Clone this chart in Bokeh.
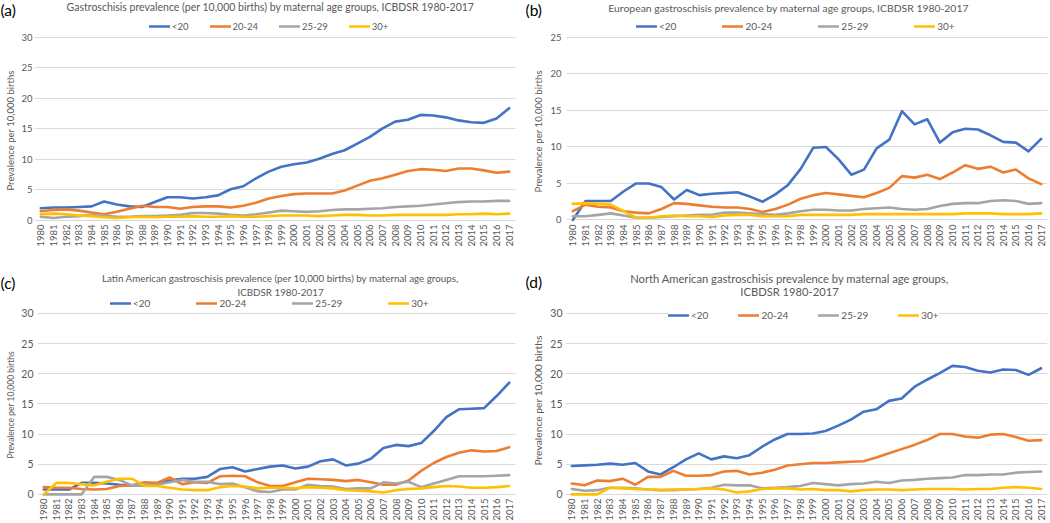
import math
from bokeh.plotting import figure
from bokeh.models import Range1d, FactorRange, FixedTicker, Label, Legend, LegendItem, Title
from bokeh.layouts import column, row
from bokeh.embed import file_html
from bokeh.resources import INLINE

# ---------------- data ----------------
years = [str(y) for y in range(1980, 2018)]
age_groups = ["<20", "20-24", "25-29", "30+"]

a_lt20 = [2.0, 2.1, 2.1, 2.2, 2.3, 3.1, 2.6, 2.3, 2.2, 3.0,
          3.8, 3.8, 3.6, 3.8, 4.1, 5.1, 5.6, 6.9, 8.0, 8.8,
          9.2, 9.5, 10.1, 10.9, 11.5, 12.6, 13.7, 15.1, 16.2, 16.5,
          17.3, 17.2, 16.9, 16.4, 16.1, 16.0, 16.7, 18.4]
a_2024 = [1.5, 1.7, 1.8, 1.6, 1.3, 1.0, 1.4, 1.9, 2.4, 2.2,
          2.2, 1.9, 2.2, 2.3, 2.3, 2.1, 2.4, 2.9, 3.6, 4.0,
          4.3, 4.4, 4.4, 4.4, 4.9, 5.7, 6.5, 6.9, 7.5, 8.1,
          8.4, 8.3, 8.1, 8.5, 8.5, 8.2, 7.8, 8.0]
a_2529 = [0.6, 0.4, 0.6, 0.7, 0.9, 0.8, 0.6, 0.6, 0.7, 0.7,
          0.8, 0.9, 1.2, 1.2, 1.1, 0.9, 0.8, 1.0, 1.3, 1.6,
          1.5, 1.4, 1.5, 1.7, 1.8, 1.8, 1.9, 2.0, 2.2, 2.3,
          2.4, 2.6, 2.8, 3.0, 3.1, 3.1, 3.2, 3.2]
a_30 = [1.0, 1.1, 1.0, 0.8, 0.7, 0.5, 0.4, 0.5, 0.6, 0.5,
        0.6, 0.6, 0.7, 0.6, 0.6, 0.7, 0.6, 0.6, 0.7, 0.8,
        0.8, 0.8, 0.7, 0.8, 0.9, 0.9, 0.8, 0.8, 0.9, 0.9,
        0.9, 0.9, 0.9, 1.0, 1.0, 1.1, 1.0, 1.1]

b_lt20 = [0.0, 2.6, 2.6, 2.6, 3.9, 5.0, 5.0, 4.5, 2.8, 4.1,
          3.4, 3.6, 3.7, 3.8, 3.2, 2.5, 3.5, 4.8, 7.0, 9.9,
          10.0, 8.3, 6.2, 6.9, 9.8, 11.0, 14.9, 13.1, 13.8, 10.6,
          12.0, 12.5, 12.4, 11.6, 10.7, 10.6, 9.4, 11.1]
b_2024 = [1.2, 2.1, 1.8, 1.7, 1.2, 1.0, 0.9, 1.5, 2.3, 2.2,
          2.0, 1.8, 1.7, 1.7, 1.5, 1.1, 1.5, 2.1, 2.9, 3.4,
          3.7, 3.5, 3.3, 3.1, 3.7, 4.4, 6.0, 5.8, 6.2, 5.6,
          6.5, 7.5, 7.0, 7.3, 6.5, 6.9, 5.7, 4.9]
b_2529 = [0.5, 0.5, 0.7, 0.9, 0.6, 0.3, 0.3, 0.4, 0.5, 0.6,
          0.7, 0.7, 1.0, 1.0, 0.9, 0.8, 0.7, 0.9, 1.2, 1.4,
          1.4, 1.3, 1.3, 1.5, 1.6, 1.7, 1.5, 1.4, 1.5, 1.9,
          2.2, 2.3, 2.3, 2.6, 2.7, 2.6, 2.2, 2.3]
b_30 = [2.2, 2.3, 2.2, 2.1, 1.2, 0.3, 0.3, 0.5, 0.6, 0.5,
        0.5, 0.4, 0.6, 0.7, 0.7, 0.5, 0.5, 0.5, 0.7, 0.7,
        0.7, 0.7, 0.7, 0.8, 0.8, 0.8, 0.8, 0.8, 0.8, 0.8,
        0.8, 0.9, 0.9, 0.9, 0.8, 0.8, 0.8, 0.9]

c_lt20 = [0.8, 0.8, 0.8, 1.9, 1.9, 1.8, 1.6, 1.5, 1.5, 1.7,
          2.3, 2.6, 2.6, 2.9, 4.2, 4.5, 3.8, 4.2, 4.6, 4.8,
          4.3, 4.6, 5.5, 5.8, 4.8, 5.1, 5.9, 7.7, 8.2, 8.0,
          8.5, 10.5, 12.8, 14.1, 14.2, 14.3, 16.3, 18.5]
c_2024 = [1.2, 1.1, 1.1, 0.9, 0.8, 0.9, 1.4, 1.5, 2.0, 1.9,
          2.8, 1.7, 2.0, 1.9, 3.0, 3.1, 3.0, 2.0, 1.4, 1.4,
          2.0, 2.6, 2.5, 2.4, 2.2, 2.4, 2.0, 1.6, 1.6, 2.3,
          3.9, 5.2, 6.2, 6.9, 7.3, 7.1, 7.2, 7.8]
c_2529 = [0.0, 0.0, 0.0, 0.0, 2.9, 2.9, 2.4, 1.5, 1.5, 1.6,
          2.0, 2.4, 2.1, 2.1, 1.7, 1.8, 1.2, 0.5, 0.4, 0.8,
          0.8, 1.6, 1.4, 1.3, 0.9, 1.0, 1.0, 2.0, 1.8, 2.1,
          1.2, 1.8, 2.4, 3.0, 3.0, 3.0, 3.1, 3.2]
c_30 = [0.0, 1.9, 1.9, 1.7, 1.5, 2.1, 2.6, 2.6, 1.4, 1.4,
        1.1, 0.8, 0.7, 0.7, 1.2, 1.4, 1.3, 1.0, 1.1, 1.1,
        1.0, 1.2, 1.1, 1.0, 0.7, 0.6, 0.5, 0.3, 0.7, 0.9,
        1.0, 1.2, 1.4, 1.3, 1.1, 1.1, 1.2, 1.4]

d_lt20 = [4.7, 4.8, 4.9, 5.1, 4.9, 5.2, 3.8, 3.3, 4.5, 5.8,
          6.8, 5.8, 6.3, 6.0, 6.5, 7.9, 9.1, 10.0, 10.0, 10.1,
          10.5, 11.4, 12.4, 13.7, 14.1, 15.5, 15.9, 17.8, 19.0, 20.1,
          21.3, 21.1, 20.5, 20.2, 20.7, 20.6, 19.8, 20.9]
d_2024 = [1.8, 1.5, 2.3, 2.2, 2.6, 1.6, 2.9, 2.9, 3.9, 3.1,
          3.1, 3.2, 3.8, 3.9, 3.3, 3.6, 4.1, 4.8, 5.0, 5.2,
          5.2, 5.3, 5.4, 5.5, 6.1, 6.8, 7.5, 8.2, 9.0, 10.0,
          10.0, 9.6, 9.4, 9.9, 10.0, 9.5, 8.9, 9.0]
d_2529 = [0.9, 0.6, 0.7, 1.1, 1.1, 1.0, 0.8, 0.7, 0.7, 0.8,
          0.9, 1.1, 1.6, 1.5, 1.5, 1.0, 1.1, 1.2, 1.4, 1.9,
          1.7, 1.5, 1.7, 1.8, 2.1, 1.9, 2.3, 2.4, 2.6, 2.7,
          2.8, 3.2, 3.2, 3.3, 3.3, 3.6, 3.7, 3.8]
d_30 = [0.0, 0.0, 0.0, 1.1, 1.0, 0.9, 0.8, 0.7, 0.8, 0.8,
        0.9, 1.0, 0.8, 0.3, 0.5, 0.9, 1.0, 1.0, 0.8, 0.9,
        0.7, 0.7, 0.5, 0.7, 0.8, 0.8, 0.7, 0.8, 0.9, 0.9,
        0.9, 0.8, 0.9, 0.9, 1.1, 1.2, 1.1, 0.9]

y_ticks_30 = [0, 5, 10, 15, 20, 25, 30]
y_ticks_25 = [0, 5, 10, 15, 20, 25]
y_label = "Prevalence per 10,000 births"

titles_a = ["Gastroschisis prevalence (per 10,000 births) by maternal age groups, ICBDSR 1980-2017"]
titles_b = ["European gastroschisis prevalence by maternal age groups, ICBDSR 1980-2017"]
titles_c = ["Latin American gastroschisis prevalence (per 10,000 births) by maternal age groups,",
            "ICBDSR 1980-2017"]
titles_d = ["North American gastroschisis prevalence by maternal age groups,",
            "ICBDSR 1980-2017"]

# ---------------- style ----------------
COLORS = ["#4472C4", "#ED7D31", "#A5A5A5", "#FFC000"]
FONT = "Lato"
TXT = "#595959"
GRID = "#D9D9D9"
Y0 = -0.35
LETTER_SIZE = "15.5px"


def make_header(letter, title_lines, width, height, title_x, title_ys, title_size, letter_y):
    """Strip above a chart holding the panel letter and the chart title."""
    h = figure(width=width, height=height, x_range=Range1d(0, 1), y_range=Range1d(0, 1),
               x_axis_type=None, y_axis_type=None, output_backend="svg",
               toolbar_location=None, min_border=0)
    h.title_location = None
    h.outline_line_color = None
    h.xgrid.visible = False
    h.ygrid.visible = False
    for txt, ty in zip(title_lines, title_ys):
        h.add_layout(Label(x=title_x, y=height - ty, x_units="screen", y_units="screen",
                           text=txt, text_align="center", text_baseline="middle",
                           text_font=FONT, text_font_size=title_size, text_color=TXT))
    h.add_layout(Label(x=0, y=height - letter_y, x_units="screen", y_units="screen",
                       text=letter, text_align="left", text_baseline="middle",
                       text_font=FONT, text_font_size=LETTER_SIZE, text_color="#000000"))
    return h


def make_chart(series, ticks, width, height, left, right, top, ph,
               leg_x, leg_yc, leg_spacing, leg_size,
               tick_size, tick_standoff, ylab_size, ylab_offset, ylab_standoff,
               leg_bg=False, leg_pad=0):
    # top: px from figure top to the highest tick line; ph: px from that line to frame bottom
    bottom = height - top - ph
    ppu = ph / (ticks[-1] - Y0)
    y_end = ticks[-1] + top / ppu
    fh = top + ph
    p = figure(x_range=FactorRange(*years), y_range=Range1d(Y0, y_end),
               width=width, height=height, output_backend="svg", toolbar_location=None,
               min_border_left=left, min_border_right=right,
               min_border_top=0, min_border_bottom=bottom)
    p.title_location = None
    p.outline_line_color = None
    p.background_fill_color = "white"
    p.border_fill_color = "white"

    renderers = []
    for vals, col in zip(series, COLORS):
        r = p.line(years, vals, line_color=col, line_width=2.6, line_join="round", line_cap="round")
        renderers.append(r)

    p.xgrid.grid_line_color = None
    p.ygrid.grid_line_color = GRID
    p.ygrid.grid_line_width = 1
    p.yaxis.ticker = FixedTicker(ticks=ticks)
    for ax in (p.xaxis[0], p.yaxis[0]):
        ax.axis_line_color = None
        ax.major_tick_line_color = None
        ax.minor_tick_line_color = None
        ax.major_tick_out = 0
        ax.major_tick_in = 0
        ax.major_label_text_color = TXT
        ax.major_label_text_font = FONT
    p.xaxis.major_label_text_font_size = "9.5px"
    p.xaxis.major_label_standoff = 2
    p.xaxis.major_label_orientation = math.pi / 2
    p.yaxis.major_label_text_font_size = tick_size
    p.yaxis.major_label_standoff = tick_standoff

    p.add_layout(Title(text=y_label, align="left", offset=ylab_offset, standoff=ylab_standoff,
                       text_font=FONT, text_font_size=ylab_size, text_font_style="normal",
                       text_color=TXT), "left")

    items = [LegendItem(label=g, renderers=[r]) for g, r in zip(age_groups, renderers)]
    leg_h = 12 + 2 * leg_pad
    leg = Legend(items=items, orientation="horizontal",
                 location=(leg_x, fh - leg_yc - leg_h / 2),
                 glyph_width=21, glyph_height=12, label_standoff=2, label_width=1,
                 label_height=12, spacing=leg_spacing, padding=leg_pad, margin=0,
                 label_text_font=FONT, label_text_font_size=leg_size, label_text_color=TXT,
                 border_line_color=None,
                 background_fill_color="white", background_fill_alpha=1.0 if leg_bg else 0.0)
    p.add_layout(leg)
    return p


WL, WR = 525, 523
HH1, HM1 = 19, 243     # row 1: header strip + chart  (262)
HH2, HM2 = 36, 225     # row 2: header strip + chart  (261)

ha = make_header("(a)", titles_a, WL, HH1, 270, [6.7], "10.5px", 9.5)
hb = make_header("(b)", titles_b, WR, HH1, 263, [7], "10.4px", 9.5)
hc = make_header("(c)", titles_c, WL, HH2, 280, [15.5, 29], "9.8px", 20)
hd = make_header("(d)", titles_d, WR, HH2, 264, [15.5, 29], "11.2px", 19.5)

pa = make_chart([a_lt20, a_2024, a_2529, a_30], y_ticks_30, WL, HM1, 32, 10, 18, 185,
                leg_x=115, leg_yc=7, leg_spacing=21, leg_size="9.5px",
                tick_size="9.5px", tick_standoff=2, ylab_size="9.5px", ylab_offset=32,
                ylab_standoff=5)
pb = make_chart([b_lt20, b_2024, b_2529, b_30], y_ticks_25, WR, HM1, 40, 1, 18, 185,
                leg_x=70, leg_yc=7, leg_spacing=46, leg_size="10px",
                tick_size="9.5px", tick_standoff=5, ylab_size="9.7px", ylab_offset=30,
                ylab_standoff=8)
pc = make_chart([c_lt20, c_2024, c_2529, c_30], y_ticks_30, WL, HM2, 32, 10, 15, 185,
                leg_x=73, leg_yc=7, leg_spacing=46, leg_size="10px",
                tick_size="10.5px", tick_standoff=4, ylab_size="8.5px", ylab_offset=38,
                ylab_standoff=6)
pd = make_chart([d_lt20, d_2024, d_2529, d_30], y_ticks_30, WR, HM2, 40, 1, 15, 185,
                leg_x=103, leg_yc=15, leg_spacing=30, leg_size="10px",
                tick_size="10.5px", tick_standoff=3, ylab_size="10.3px", ylab_offset=31,
                ylab_standoff=8, leg_bg=True, leg_pad=4)

layout = column(row(ha, hb), row(pa, pb), row(hc, hd), row(pc, pd))

open("out.html", "w").write(file_html(layout, INLINE))
